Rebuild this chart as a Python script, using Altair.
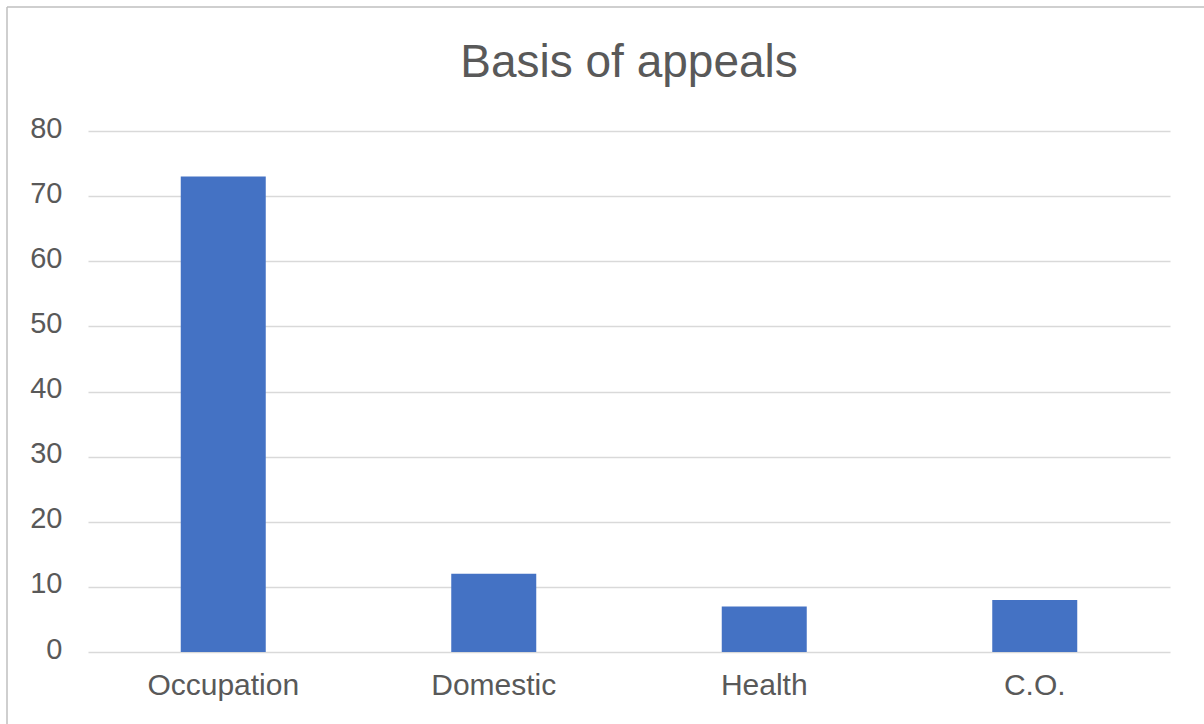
import altair as alt
import pandas as pd

categories = ["Occupation", "Domestic", "Health", "C.O."]
values = [73, 12, 7, 8]

df = pd.DataFrame({"category": categories, "value": values})

bars = alt.Chart(df).mark_bar(color="#4472C4", width=85).encode(
    x=alt.X("category:N", sort=categories,
            scale=alt.Scale(paddingInner=0, paddingOuter=0),
            axis=alt.Axis(title=None, labelAngle=0, ticks=False, domain=False,
                          grid=False,
                          labelFontSize=30, labelColor="#595959",
                          labelFont="Liberation Sans", labelPadding=18)),
    y=alt.Y("value:Q", scale=alt.Scale(domain=[0, 80]),
            axis=alt.Axis(title=None, values=list(range(0, 81, 10)), ticks=False,
                          domain=False, labelFontSize=29, labelColor="#595959",
                          labelFont="Liberation Sans", labelPadding=26,
                          labelOffset=-3,
                          gridColor="#d9d9d9", gridWidth=1.5)),
)

frame_df = pd.DataFrame({"f": [0]})
left_border = alt.Chart(frame_df).mark_rule(color="#bfbfbf", strokeWidth=1.5).encode(
    x=alt.value(-81), y=alt.value(-124), y2=alt.value(600))
top_border = alt.Chart(frame_df).mark_rule(color="#bfbfbf", strokeWidth=1.5).encode(
    x=alt.value(-81), x2=alt.value(1120), y=alt.value(-124))

chart = alt.layer(bars, left_border, top_border).properties(
    width=1082, height=521,
    title=alt.TitleParams("Basis of appeals", fontSize=46, font="Liberation Sans",
                          fontWeight="normal", color="#595959", offset=-81,
                          anchor="middle"),
    autosize=alt.AutoSizeParams(type="none"),
    padding={"left": 88, "top": 131, "right": 34, "bottom": 72},
    view=alt.ViewBackground(stroke="transparent", strokeWidth=0),
).configure_view(stroke="transparent", strokeWidth=0).configure(background="white")

chart.save("out.html", embed_options={"renderer": "svg", "actions": False})
